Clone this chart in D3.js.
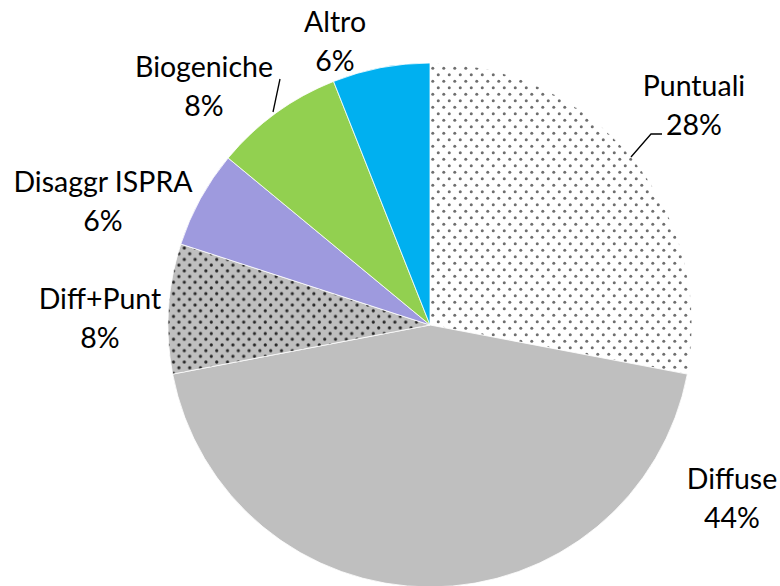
<!DOCTYPE html>
<html>
<head>
<meta charset="utf-8">
<script src="https://cdn.jsdelivr.net/npm/d3@7"></script>
<style>
  html, body { margin: 0; padding: 0; background: #fff; }
  #chart { width: 780px; height: 586px; }
  .lbl { font-family: Lato, "Open Sans", sans-serif; font-size: 28.5px; fill: #000; }
</style>
</head>
<body>
<div id="chart"></div>
<script>
// dati
const categories = ["Puntuali", "Diffuse", "Diff+Punt", "Disaggr ISPRA", "Biogeniche", "Altro"];
const values     = [28, 44, 8, 6, 8, 6];
const pctLabels  = ["28%", "44%", "8%", "6%", "8%", "6%"];

// riempimenti (pattern o colore)
const fills = ["url(#dotsLight)", "#bfbfbf", "url(#dotsDark)", "#9e9ade", "#92d050", "#00b0f0"];

// posizione etichette (centro, baseline prima riga)
const labelPos = [[694, 96], [732, 489], [100, 309], [103, 192], [204, 77], [335, 32]];

// linee guida
const leaders = [
  [[631, 157], [651, 134], [662, 134]],
  [[273, 112], [280, 79]]
];

const W = 780, H = 586;
const cx = 430, cy = 325, R = 262;

const svg = d3.select("#chart").append("svg")
  .attr("width", W)
  .attr("height", H);

// pattern a puntini
const defs = svg.append("defs");

function dotPattern(id, w, h, bg, dot, r) {
  const p = defs.append("pattern")
    .attr("id", id)
    .attr("patternUnits", "userSpaceOnUse")
    .attr("width", w)
    .attr("height", h);
  p.append("rect").attr("width", w).attr("height", h).attr("fill", bg);
  p.append("circle").attr("cx", w / 4).attr("cy", h / 4).attr("r", r).attr("fill", dot);
  p.append("circle").attr("cx", w * 3 / 4).attr("cy", h * 3 / 4).attr("r", r).attr("fill", dot);
}
dotPattern("dotsLight", 11, 13, "#ffffff", "#6e6e6e", 1.5);
dotPattern("dotsDark", 10.8, 11.4, "#bfbfbf", "#262626", 1.6);

const pie = d3.pie().sort(null).value(d => d);
const arc = d3.arc().innerRadius(0).outerRadius(R);

const g = svg.append("g").attr("transform", `translate(${cx},${cy})`);

g.selectAll("path")
  .data(pie(values))
  .enter()
  .append("path")
  .attr("d", arc)
  .attr("fill", (d, i) => fills[i])
  .attr("stroke", "#fff")
  .attr("stroke-width", 0.8);

// linee guida
const line = d3.line();
svg.selectAll(".leader")
  .data(leaders)
  .enter()
  .append("path")
  .attr("class", "leader")
  .attr("d", line)
  .attr("fill", "none")
  .attr("stroke", "#000")
  .attr("stroke-width", 1.3);

// etichette
const lbl = svg.selectAll(".lbl")
  .data(categories)
  .enter()
  .append("text")
  .attr("class", "lbl")
  .attr("text-anchor", "middle")
  .attr("x", (d, i) => labelPos[i][0])
  .attr("y", (d, i) => labelPos[i][1]);

lbl.append("tspan").text(d => d);
lbl.append("tspan")
  .attr("x", (d, i) => labelPos[i][0])
  .attr("dy", 39)
  .text((d, i) => pctLabels[i]);
</script>
</body>
</html>
